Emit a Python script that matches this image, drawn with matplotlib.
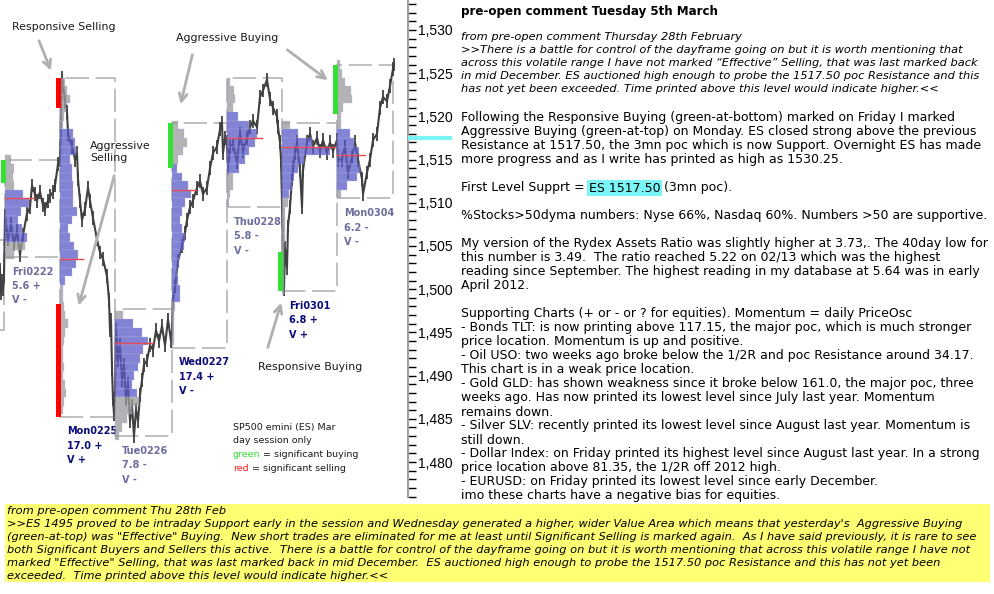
import matplotlib.pyplot as plt
from matplotlib.patches import Rectangle
from matplotlib.ticker import MultipleLocator, FuncFormatter

W, H = 995, 594

# ---- intraday price path (time index, price) ----
bar_x = [0, 1, 2, 3, 4,
         5, 8, 11, 14, 17, 20, 23, 27, 30, 32, 35, 37, 40, 43, 45, 48, 50, 53, 55, 58, 60,
         62, 65, 67, 68, 72, 75, 77, 78, 80, 82, 85, 88, 90, 93, 97, 100, 103, 107, 109, 110, 111, 112, 113, 114, 115,
         116, 118, 120, 122, 124, 126, 128, 130, 132, 134, 136, 138, 140, 142, 144, 147, 150, 153, 156, 159, 162, 165, 168, 171, 172,
         173, 175, 178, 182, 185, 187, 190, 193, 197, 200, 203, 207, 210, 213, 217, 220, 222, 223, 225, 227,
         228, 230, 233, 237, 240, 243, 247, 250, 253, 257, 260, 263, 267, 270, 273, 277, 278, 280, 281, 282,
         283, 284, 285, 287, 288, 290, 292, 293, 295, 297, 300, 302, 303, 307, 310, 313, 317, 320, 323, 327, 330, 333, 337,
         338, 342, 345, 348, 352, 355, 358, 362, 363, 367, 370, 373, 377, 380, 383, 387, 390, 393, 394]
bar_price = [1502.25, 1499.5, 1501.0, 1500.0, 1501.5,
             1508.5, 1505.75, 1507.5, 1505.25, 1506.75, 1504.0, 1506.25, 1508.75, 1509.5, 1512.0, 1511.0, 1510.25,
             1511.25, 1509.75, 1509.25, 1510.25, 1510.75, 1511.25, 1512.0, 1514.5, 1515.0,
             1524.5, 1521.75, 1520.5, 1518.0, 1516.5, 1515.0, 1515.75, 1512.75, 1510.25, 1508.0, 1509.25, 1511.75,
             1510.25, 1508.25, 1505.75, 1504.25, 1503.5, 1501.5, 1498.75, 1495.25, 1496.5, 1490.75, 1487.25, 1485.5, 1487.75,
             1495.25, 1491.75, 1493.5, 1489.5, 1491.25, 1487.25, 1489.0, 1484.75, 1486.5, 1483.0, 1486.0, 1484.75,
             1487.75, 1489.5, 1491.25, 1491.75, 1493.5, 1493.0, 1495.25, 1494.0, 1495.75, 1493.5, 1496.5, 1494.0, 1495.25,
             1498.75, 1500.25, 1503.25, 1505.0, 1506.5, 1508.0, 1509.5, 1510.25, 1511.75, 1512.5, 1511.0, 1511.75,
             1514.0, 1515.75, 1516.5, 1518.5, 1519.25, 1515.75, 1517.5, 1517.0,
             1514.0, 1516.5, 1516.75, 1514.75, 1518.0, 1516.0, 1517.5, 1518.75, 1519.5, 1518.75, 1522.25, 1523.0,
             1524.25, 1522.0, 1521.0, 1520.0, 1518.75, 1517.0, 1515.0, 1510.0,
             1504.0, 1500.0, 1504.75, 1502.5, 1507.25, 1509.5, 1512.75, 1514.0, 1515.75, 1517.0, 1513.75, 1509.5,
             1513.75, 1517.0, 1518.0, 1516.5, 1517.5, 1516.0, 1517.25, 1515.75, 1517.0, 1516.0, 1517.25,
             1515.0, 1515.0, 1516.5, 1513.5, 1515.25, 1517.0, 1515.0, 1512.75, 1511.0, 1513.5, 1515.0, 1517.25,
             1518.0, 1521.0, 1522.25, 1521.75, 1523.5, 1525.5, 1526.0]

# ---- day sessions ----
day_names = ["Fri0222", "Mon0225", "Tue0226", "Wed0227", "Thu0228", "Fri0301", "Mon0304"]
day_ratio = ["5.6 +", "17.0 +", "7.8 -", "17.4 +", "5.8 -", "6.8 +", "6.2 -"]
day_value = ["V -", "V +", "V -", "V -", "V -", "V +", "V -"]
day_start = [5, 60, 115, 172, 227, 282, 337]
day_end = [60, 115, 172, 227, 282, 337, 393]
day_high = [1515.0, 1524.5, 1497.75, 1519.25, 1524.5, 1519.25, 1526.0]
day_low = [1503.75, 1485.25, 1483.0, 1493.25, 1509.5, 1499.75, 1510.5]
day_poc = [1510.5, 1503.5, 1493.75, 1511.5, 1517.5, 1516.5, 1515.5]
va_high = [1511, 1518, 1496, 1514, 1520, 1518, 1518]
va_low = [1506, 1501, 1488, 1499, 1514, 1511, 1512]
profile_top = [1515, 1524, 1497, 1519, 1524, 1519, 1526]
profile_widths = [
    [6, 9, 8, 9, 18, 24, 16, 13, 17, 22, 20, 9],
    [5, 7, 10, 6, 4, 3, 13, 15, 16, 10, 12, 12, 13, 13, 13, 17, 12, 8, 10, 14, 18, 16, 12, 5,
     3, 3, 4, 5, 8, 5, 4, 3, 3, 4, 3, 5, 6, 4, 3],
    [8, 18, 27, 33, 28, 25, 23, 19, 17, 22, 24, 17, 12, 7, 4],
    [6, 12, 15, 11, 6, 5, 10, 16, 19, 13, 10, 8, 10, 13, 12, 8, 7, 5, 6, 8, 8, 3, 2, 2, 2, 2],
    [3, 7, 8, 6, 11, 22, 30, 28, 22, 18, 12, 6, 6, 3, 2],
    [8, 16, 30, 48, 22, 16, 12, 10, 7, 6, 3, 3, 3, 3, 2, 2, 2, 2, 2, 2],
    [3, 5, 8, 14, 15, 6, 4, 4, 13, 17, 22, 20, 23, 20, 10, 4],
]
label_colors = ["#6e6e9e", "#0c0c78", "#6e6e9e", "#0c0c78", "#6e6e9e", "#0c0c78", "#6e6e9e"]

# partial previous session at the left edge
prev_start, prev_end, prev_high, prev_low = -20, 4, 1505.75, 1495.25

# significant buying / selling markers
sig_day = [0, 1, 1, 3, 5, 6]
sig_kind = ["buy", "sell", "sell", "buy", "buy", "buy"]
sig_top = [1515.0, 1524.5, 1498.25, 1519.25, 1504.25, 1526.0]
sig_bottom = [1512.25, 1521.0, 1485.25, 1514.0, 1499.75, 1520.25]

support_level = 1517.50

fig = plt.figure(figsize=(W / 100, H / 100), dpi=100)
ax = fig.add_axes([0, 1 - 497 / H, 408 / W, 497 / H])
ax.set_xlim(0, 408)
ax.set_ylim(1475.95, 1533.47)

# price path drawn as a line with short bar ticks
ax.plot(bar_x, bar_price, color="#404040", lw=1.5, zorder=2)
ax.vlines(bar_x, [p - 0.8 for p in bar_price], [p + 0.8 for p in bar_price],
          color="#404040", lw=1.3, zorder=2)

# day boxes, profiles, poc lines, labels
box_style = dict(fill=False, ec="#b4b4b4", lw=1.2, ls=(0, (14, 4)), zorder=1)
ax.add_patch(Rectangle((prev_start, prev_low), prev_end - prev_start, prev_high - prev_low, **box_style))
for i in range(len(day_names)):
    ax.add_patch(Rectangle((day_start[i], day_low[i]), day_end[i] - day_start[i],
                           day_high[i] - day_low[i], **box_style))
    widths = profile_widths[i]
    rows = [profile_top[i] - k for k in range(len(widths))]
    cols = ["#5a5ac8" if va_low[i] <= r <= va_high[i] else "#9a9a9a" for r in rows]
    ax.barh(rows, widths, left=day_start[i], height=1.0, color=cols, alpha=0.75,
            edgecolor="#b4b4e6", linewidth=0.3, zorder=3)
    ax.plot([day_start[i], day_start[i] + max(widths) + 5], [day_poc[i], day_poc[i]],
            color="#e8484f", lw=1.0, zorder=4)
    ax.annotate(f"{day_names[i]}\n{day_ratio[i]}\n{day_value[i]}",
                xy=(day_start[i] + 7, day_low[i]), xytext=(0, -7), textcoords="offset points",
                ha="left", va="top", fontsize=7.0, fontweight="bold", color=label_colors[i],
                linespacing=1.55)

for d, kind, top, bot in zip(sig_day, sig_kind, sig_top, sig_bottom):
    ax.bar(day_start[d] - 1.5, top - bot, bottom=bot, width=5,
           color="#33e033" if kind == "buy" else "#ff0000", zorder=5)

# annotations
txt = dict(fontsize=7.9, color="#1a1a1a", va="center", ha="left")
arrow = dict(arrowstyle="->", color="#b0b0b0", lw=2, mutation_scale=14)
ax.text(12, 1530.35, "Responsive Selling", **txt)
ax.annotate("", xy=(52, 1525.0), xytext=(38, 1529.05), arrowprops=arrow)
ax.text(176, 1529.05, "Aggressive Buying", **txt)
ax.annotate("", xy=(180, 1521.1), xytext=(193, 1527.45), arrowprops=arrow)
ax.annotate("", xy=(330, 1524.0), xytext=(285, 1527.9), arrowprops=arrow)
ax.text(90, 1515.9, "Aggressive\nSelling", linespacing=1.2, **txt)
ax.annotate("", xy=(78, 1497.8), xytext=(115, 1513.45), arrowprops=arrow)
ax.text(258, 1491.0, "Responsive Buying", **txt)
ax.annotate("", xy=(282, 1498.75), xytext=(267, 1492.95), arrowprops=arrow)

leg = dict(fontsize=6.8, va="center", ha="left")
ax.text(233, 1484.05, "SP500 emini (ES) Mar", color="#1a1a1a", **leg)
ax.text(233, 1482.45, "day session only", color="#1a1a1a", **leg)
g = ax.text(233, 1480.85, "green", color="#33e033", **leg)
ax.annotate(" = significant buying", xy=(1, 0.5), xycoords=g, va="center", ha="left",
            fontsize=6.8, color="#1a1a1a")
r = ax.text(233, 1479.25, "red", color="#ff2020", **leg)
ax.annotate(" = significant selling", xy=(1, 0.5), xycoords=r, va="center", ha="left",
            fontsize=6.8, color="#1a1a1a")

# support marker crossing the price axis
ax.plot([408, 452], [support_level, support_level], color="#7af5f5", lw=3,
        solid_capstyle="butt", clip_on=False, zorder=6)

# right price axis
for s in ["left", "top", "bottom"]:
    ax.spines[s].set_visible(False)
ax.spines["right"].set_color("#a0a0a0")
ax.spines["right"].set_linewidth(1.5)
ax.set_xticks([])
ax.yaxis.tick_right()
ax.yaxis.set_major_locator(MultipleLocator(5))
ax.yaxis.set_minor_locator(MultipleLocator(1))
ax.yaxis.set_major_formatter(FuncFormatter(lambda v, _: f"{v:,.0f}"))
ax.tick_params(axis="y", which="both", direction="out", length=6, width=1, color="black",
               labelsize=10, pad=1)
for lab in ax.get_yticklabels():
    lab.set_fontfamily("Liberation Sans")


def fy(y):
    return 1 - y / H


# ---- commentary panel ----
X0 = 461 / W
BODY = 9.0
ITAL = 8.2
fig.text(X0, fy(12), "pre-open comment Tuesday 5th March", fontsize=8.6, fontweight="bold", va="center")

quote_lines = [
    "from pre-open comment Thursday 28th February",
    ">>There is a battle for control of the dayframe going on but it is worth mentioning that",
    "across this volatile range I have not marked \u201cEffective\u201d Selling, that was last marked back",
    "in mid December. ES auctioned high enough to probe the 1517.50 poc Resistance and this",
    "has not yet been exceeded. Time printed above this level would indicate higher.<<",
]
for k, line in enumerate(quote_lines):
    fig.text(X0, fy(37 + 13 * k), line, fontsize=ITAL, style="italic", va="center")

body_lines = [
    (118, "Following the Responsive Buying (green-at-bottom) marked on Friday I marked"),
    (132, "Aggressive Buying (green-at-top) on Monday. ES closed strong above the previous"),
    (146, "Resistance at 1517.50, the 3mn poc which is now Support. Overnight ES has made"),
    (160, "more progress and as I write has printed as high as 1530.25."),
    (216, "%Stocks>50dyma numbers: Nyse 66%, Nasdaq 60%. Numbers >50 are supportive."),
    (244, "My version of the Rydex Assets Ratio was slightly higher at 3.73,. The 40day low for"),
    (258, "this number is 3.49.  The ratio reached 5.22 on 02/13 which was the highest"),
    (272, "reading since September. The highest reading in my database at 5.64 was in early"),
    (286, "April 2012."),
    (314, "Supporting Charts (+ or - or ? for equities). Momentum = daily PriceOsc"),
    (328, "- Bonds TLT: is now printing above 117.15, the major poc, which is much stronger"),
    (342, "price location. Momentum is up and positive."),
    (356, "- Oil USO: two weeks ago broke below the 1/2R and poc Resistance around 34.17."),
    (370, "This chart is in a weak price location."),
    (384, "- Gold GLD: has shown weakness since it broke below 161.0, the major poc, three"),
    (398, "weeks ago. Has now printed its lowest level since July last year. Momentum"),
    (412, "remains down."),
    (426, "- Silver SLV: recently printed its lowest level since August last year. Momentum is"),
    (440, "still down."),
    (454, "- Dollar Index: on Friday printed its highest level since August last year. In a strong"),
    (468, "price location above 81.35, the 1/2R off 2012 high."),
    (482, "- EURUSD: on Friday printed its lowest level since early December."),
    (496, "imo these charts have a negative bias for equities."),
]
for y, line in body_lines:
    fig.text(X0, fy(y), line, fontsize=BODY, va="center")

t1 = fig.text(X0, fy(188), "First Level Supprt = ", fontsize=BODY, va="center")
t2 = ax.annotate("ES 1517.50", xy=(1, 0.5), xycoords=t1, va="center", ha="left", fontsize=BODY,
                 bbox=dict(boxstyle="square,pad=0.15", fc="#7af5f5", ec="none"),
                 annotation_clip=False)
ax.annotate(" (3mn poc).", xy=(1, 0.5), xycoords=t2, va="center", ha="left", fontsize=BODY,
            annotation_clip=False)

# ---- yellow note box ----
fig.patches.append(Rectangle((5 / W, fy(582)), 985 / W, 78 / H, transform=fig.transFigure,
                             fc="#ffff73", ec="none", zorder=5))
note_lines = [
    "from pre-open comment Thu 28th Feb",
    ">>ES 1495 proved to be intraday Support early in the session and Wednesday generated a higher, "
    "wider Value Area which means that yesterday's  Aggressive Buying",
    "(green-at-top) was \"Effective\" Buying.  New short trades are eliminated for me at least until "
    "Significant Selling is marked again.  As I have said previously, it is rare to see",
    "both Significant Buyers and Sellers this active.  There is a battle for control of the dayframe "
    "going on but it is worth mentioning that across this volatile range I have not",
    "marked \"Effective\" Selling, that was last marked back in mid December.  ES auctioned high "
    "enough to probe the 1517.50 poc Resistance and this has not yet been",
    "exceeded.  Time printed above this level would indicate higher.<<",
]
for k, line in enumerate(note_lines):
    fig.text(7 / W, fy(511 + 13 * k), line, fontsize=ITAL, style="italic", va="center", zorder=6)

fig.savefig("out.png", dpi=100, facecolor="white")
